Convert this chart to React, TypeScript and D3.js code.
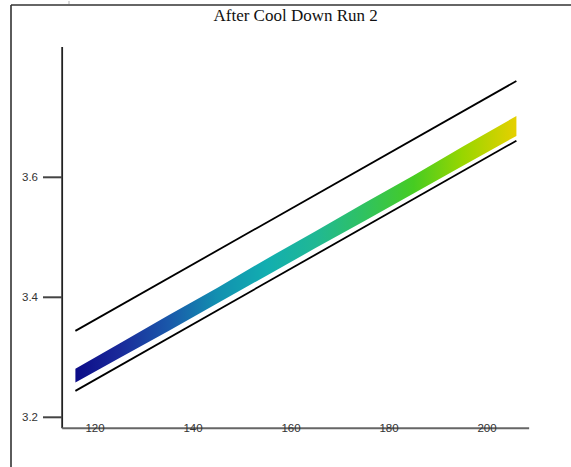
import React from 'react';
import * as d3 from 'd3';

const width = 571
const height = 467

const bandX = [116, 125, 135, 145, 155, 165, 175, 185, 195, 206]
const bandTop = [3.281, 3.323, 3.370, 3.416, 3.464, 3.510, 3.557, 3.603, 3.651, 3.702]
const bandBottom = [3.258, 3.299, 3.344, 3.390, 3.436, 3.482, 3.527, 3.573, 3.619, 3.669]
const bandColors = ['#0c0c88', '#1a2a9a', '#1a58aa', '#1290b0', '#12aeb0', '#20b894', '#30c260', '#46cc22', '#98d600', '#e6d000']

// limit lines
const limitX = [116, 206]
const upperLimit = [3.344, 3.7605]
const lowerLimit = [3.244, 3.661]

const xTicks = [120, 140, 160, 180, 200]
const yTicks = [3.2, 3.4, 3.6]
const xDomain = [113.3, 208.6]
const yDomain = [3.1817, 3.817]

function App() {
  const x = d3.scaleLinear().domain([120, 200]).range([95, 487])
  const y = d3.scaleLinear().domain([3.2, 3.6]).range([417.3, 177.3])

  const band = bandX.map((v, i) => ({ x: v, top: bandTop[i], bottom: bandBottom[i] }))
  const area = d3.area<any>()
    .x(d => x(d.x))
    .y0(d => y(d.bottom))
    .y1(d => y(d.top))

  const line = d3.line<number>()
    .x((d, i) => x(limitX[i]))
    .y(d => y(d))

  const x0 = x(xDomain[0]), x1 = x(xDomain[1])
  const y0 = y(yDomain[0]), y1 = y(yDomain[1])

  return (
    <svg width={width} height={height} style={{ position: 'absolute', left: 0, top: 0, background: '#fff' }}>
      <defs>
        <linearGradient id="band" gradientUnits="userSpaceOnUse" x1={x(bandX[0])} x2={x(bandX[bandX.length - 1])} y1={0} y2={0}>
          {bandX.map((v, i) => (
            <stop key={i} offset={(v - bandX[0]) / (bandX[bandX.length - 1] - bandX[0])} stopColor={bandColors[i]} />
          ))}
        </linearGradient>
      </defs>

      {/* frame */}
      <line x1={11} x2={width} y1={5} y2={5} stroke="#333" strokeWidth={1.6} />
      <line x1={11} x2={11} y1={5} y2={height} stroke="#333" strokeWidth={1.6} />
      <line x1={69} x2={69} y1={1} y2={4} stroke="#ccc" strokeWidth={1.5} />

      <text x={(x0 + x1) / 2} y={21} textAnchor="middle" fontFamily="Liberation Serif" fontSize={17} fill="#111">
        After Cool Down Run 2
      </text>

      {/* band */}
      <path d={area(band) || ''} fill="url(#band)" />

      {/* limit lines */}
      <path d={line(upperLimit) || ''} fill="none" stroke="#000" strokeWidth={1.8} />
      <path d={line(lowerLimit) || ''} fill="none" stroke="#000" strokeWidth={1.8} />

      {/* y axis */}
      <line x1={x0} x2={x0} y1={y1} y2={y0} stroke="#222" strokeWidth={1.8} />
      {yTicks.map(t => (
        <g key={t}>
          <line x1={43} x2={x0} y1={y(t)} y2={y(t)} stroke="#444" strokeWidth={2} />
          <text x={38} y={y(t)} dy="0.32em" textAnchor="end" fontFamily="Liberation Sans" fontSize={11.5} fill="#333">
            {d3.format('.1f')(t)}
          </text>
        </g>
      ))}

      {/* x axis */}
      <line x1={x0} x2={x1} y1={y0} y2={y0} stroke="#666" strokeWidth={2} />
      {xTicks.map(t => (
        <text key={t} x={x(t)} y={y0} dy="0.35em" textAnchor="middle" fontFamily="Liberation Sans" fontSize={11.5} fill="#333">
          {t}
        </text>
      ))}
    </svg>
  );
}

export default App;
